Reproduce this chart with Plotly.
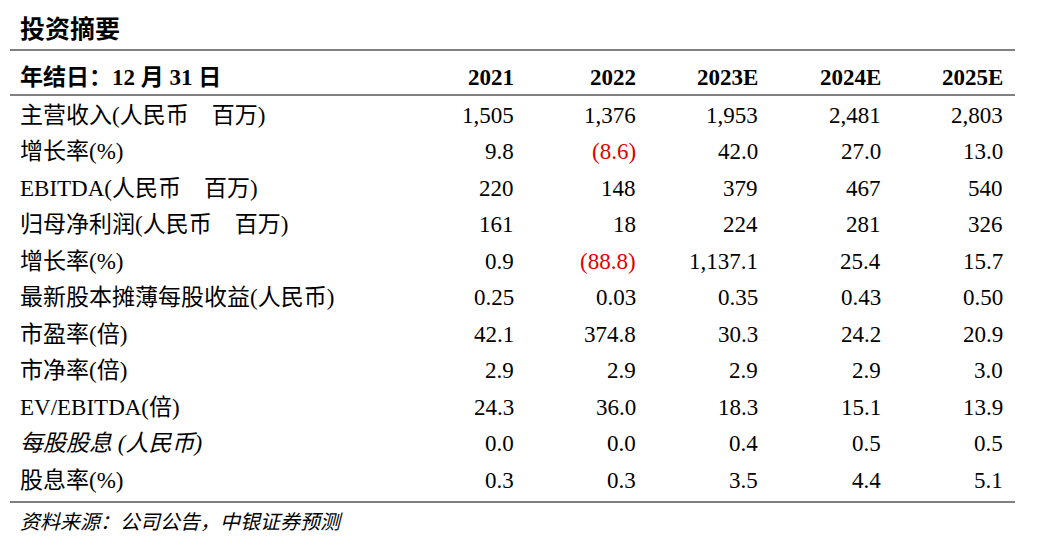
import plotly.graph_objects as go

title = "投资摘要"
header_label = "年结日：12 月 31 日"
years = ["2021", "2022", "2023E", "2024E", "2025E"]
row_labels = [
    "主营收入(人民币　百万)",
    "增长率(%)",
    "EBITDA(人民币　百万)",
    "归母净利润(人民币　百万)",
    "增长率(%)",
    "最新股本摊薄每股收益(人民币)",
    "市盈率(倍)",
    "市净率(倍)",
    "EV/EBITDA(倍)",
    "每股股息 (人民币)",
    "股息率(%)",
]
values = [
    ["1,505", "1,376", "1,953", "2,481", "2,803"],
    ["9.8", "(8.6)", "42.0", "27.0", "13.0"],
    ["220", "148", "379", "467", "540"],
    ["161", "18", "224", "281", "326"],
    ["0.9", "(88.8)", "1,137.1", "25.4", "15.7"],
    ["0.25", "0.03", "0.35", "0.43", "0.50"],
    ["42.1", "374.8", "30.3", "24.2", "20.9"],
    ["2.9", "2.9", "2.9", "2.9", "3.0"],
    ["24.3", "36.0", "18.3", "15.1", "13.9"],
    ["0.0", "0.0", "0.4", "0.5", "0.5"],
    ["0.3", "0.3", "3.5", "4.4", "5.1"],
]
italic_rows = [9]
source = "资料来源：公司公告，中银证券预测"

W, H = 1038, 548
DX, DY = -8, -9  # page body offset
FONT = "Liberation Serif, Noto Sans CJK SC"
col_x = [516, 638, 760, 883, 1005]
row_y0, row_dy = 116, 36.5

fig = go.Figure()
fig.add_trace(go.Scatter(x=[0, W], y=[0, H], mode="markers", marker=dict(opacity=0), hoverinfo="skip"))

ann = []
ann.append(dict(x=18, y=30, text="<b>" + title + "</b>", xanchor="left", font=dict(size=25)))
ann.append(dict(x=18, y=78, text="<b>" + header_label + "</b>", xanchor="left"))
for x, yr in zip(col_x, years):
    ann.append(dict(x=x, y=78, text="<b>" + yr + "</b>", xanchor="right"))
for i, (lab, vals) in enumerate(zip(row_labels, values)):
    y = row_y0 + i * row_dy
    t = "<i>" + lab + "</i>" if i in italic_rows else lab
    ann.append(dict(x=18, y=y, text=t, xanchor="left"))
    for x, v in zip(col_x, vals):
        c = "#e00000" if v.startswith("(") else "black"
        ann.append(dict(x=x, y=y, text=v, xanchor="right", font=dict(color=c)))
ann.append(dict(x=18, y=523, text="<i>" + source + "</i>", xanchor="left", font=dict(size=20)))
for a in ann:
    a.setdefault("font", {})
    a["font"].setdefault("size", 23)
    a["font"].setdefault("color", "black")
    a["font"]["family"] = FONT
    a["x"] += DX
    a["y"] += DY
    a.update(showarrow=False, yanchor="middle", xref="x", yref="y")

shapes = []
for ly in [51, 96, 503]:
    shapes.append(dict(type="line", x0=10 + DX, x1=1015 + DX, y0=ly + DY, y1=ly + DY,
                       xref="x", yref="y", line=dict(color="black", width=1)))

fig.update_layout(
    width=W, height=H, margin=dict(l=0, r=0, t=0, b=0),
    plot_bgcolor="white", paper_bgcolor="white", showlegend=False,
    xaxis=dict(range=[0, W], visible=False, fixedrange=True),
    yaxis=dict(range=[H, 0], visible=False, fixedrange=True),
    annotations=ann, shapes=shapes,
)
fig.write_html("out.html")
